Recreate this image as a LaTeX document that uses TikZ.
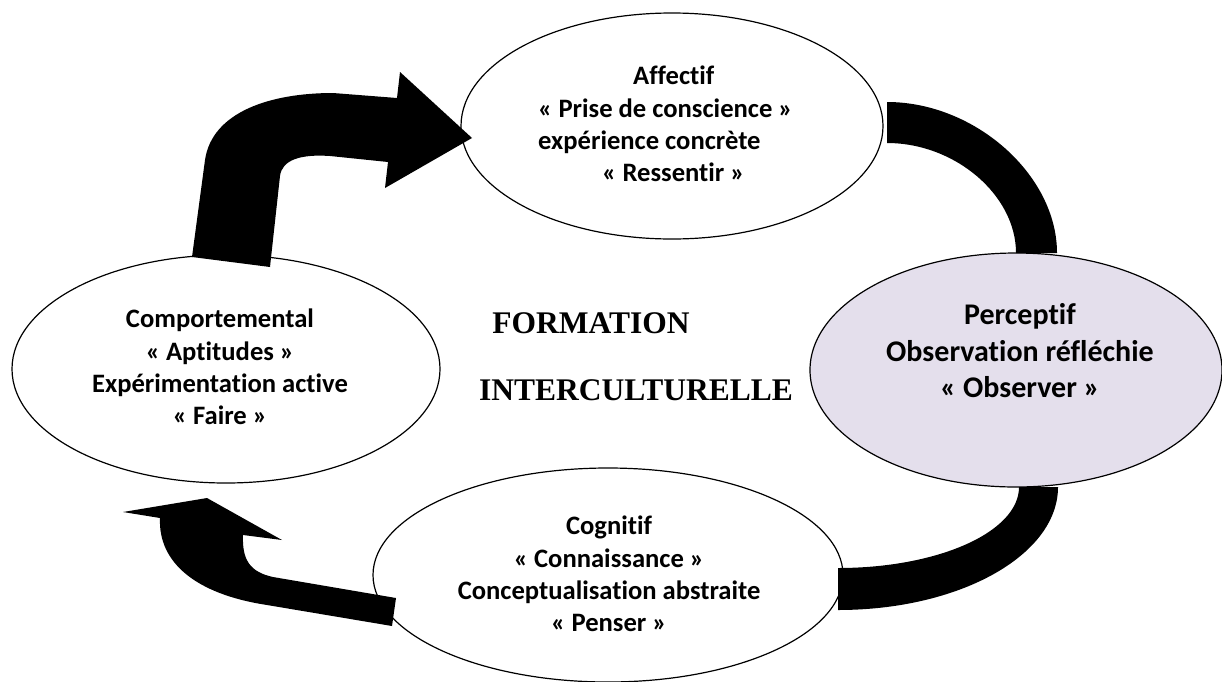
\documentclass[tikz,border=0pt]{standalone}
\usepackage{fontspec}
\newfontfamily\calib{Carlito}[Ligatures={NoCommon}]
\newfontfamily\tnr{Liberation Serif}
\usetikzlibrary{shapes.geometric}
\definecolor{lavender}{RGB}{228,223,236}
\begin{document}
\begin{tikzpicture}[x=1pt,y=-1pt,
  stage/.style={draw=black, line width=1.2pt, ellipse, inner sep=0pt},
  stagetxt/.style={font=\calib\bfseries\fontsize{26.6}{32.4}\selectfont, align=center, inner sep=0pt},
  bigtxt/.style={font=\calib\bfseries\fontsize{30}{36.5}\selectfont, align=center, inner sep=0pt},
  titletxt/.style={font=\tnr\bfseries\fontsize{31.5}{36}\selectfont, inner sep=0pt},
  band/.style={fill=black, draw=none}]
\useasboundingbox (0,0) rectangle (1222,681);

% the four stages of the cycle
\node[stage, minimum width=422pt, minimum height=226pt] (aff) at (672,126) {};
\node[stage, minimum width=428pt, minimum height=228pt] (comp) at (226,369) {};
\node[stage, fill=lavender, minimum width=412pt, minimum height=234pt] (perc) at (1016,370) {};
\node[stage, minimum width=470pt, minimum height=214pt] (cogn) at (608,575) {};

% stage labels
\node[stagetxt, anchor=west, align=left] (affT) at (538,124)
  {\hspace*{95pt}Affectif\\« Prise de conscience »\\expérience concrète\\\hspace*{64pt}« Ressentir »};
\node[stagetxt] (compT) at (220,367)
  {Comportemental\\« Aptitudes »\\Expérimentation active\\« Faire »};
\node[bigtxt] (percT) at (1020,351)
  {Perceptif\\Observation réfléchie\\« Observer »};
\node[stagetxt] (cognT) at (609,574)
  {Cognitif\\« Connaissance »\\Conceptualisation abstraite\\« Penser »};

% central title
\node[titletxt] (t1) at (591,323) {FORMATION};
\node[titletxt] (t2) at (636,390) {INTERCULTURELLE};

% Comportemental -> Affectif : bent block arrow
\fill[band] (192,257) -- (205,160) .. controls (212,112) and (270,93) .. (333,93)
  -- (397,98) -- (400,72) -- (472,138) -- (385,188) -- (388,162)
  -- (330,156) .. controls (300,154) and (282,160) .. (280,176) -- (270,267) -- cycle;

% Affectif -> Perceptif : curved band
\fill[band] (887,102) .. controls (975,102) and (1057,175) .. (1057,253)
  -- (1016,253) .. controls (1016,195) and (955,143) .. (887,143) -- cycle;

% Perceptif -> Cognitif : curved band
\fill[band] (1058,487) .. controls (1058,555) and (960,610) .. (838,610)
  -- (838,568) .. controls (938,568) and (1019,532) .. (1019,487) -- cycle;

% Cognitif -> Comportemental : bent block arrow
\fill[band] (396,598) -- (273,577) .. controls (250,572) and (242,560) .. (243,535)
  -- (282,540) -- (207,498) -- (123,512) -- (160,518)
  .. controls (158,562) and (195,594) .. (267,605) -- (392,626) -- cycle;
\end{tikzpicture}
\end{document}
